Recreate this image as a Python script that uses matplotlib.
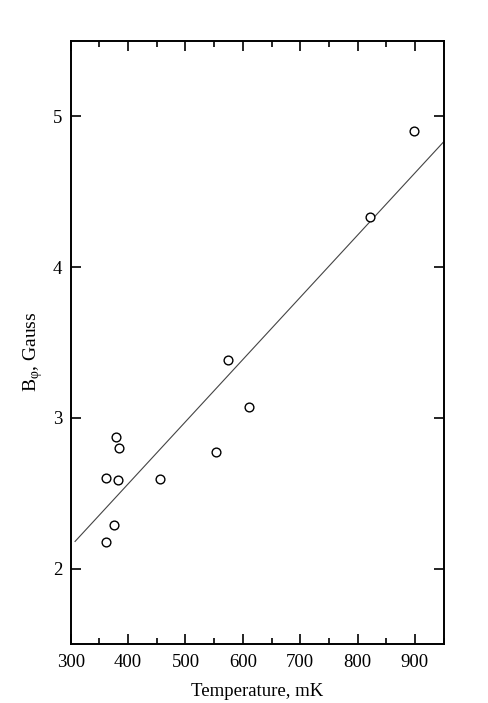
import numpy as np
import matplotlib
matplotlib.use("Agg")
from matplotlib import pyplot as plt
from matplotlib.ticker import MultipleLocator

# data
temperature = [361.5, 376, 361.5, 381.9, 378.9, 383.6, 455, 553.7, 574.5, 611.2, 821.4, 898.6]
b_phi = [2.177, 2.292, 2.599, 2.591, 2.874, 2.798, 2.593, 2.772, 3.387, 3.073, 4.334, 4.906]

# linear fit as drawn
fit_x = [307.5, 950]
fit_intercept = 0.912
fit_slope = 0.004125

plt.rcParams['font.family'] = ['Liberation Serif', 'DejaVu Serif']
plt.rcParams['mathtext.fontset'] = 'custom'
plt.rcParams['mathtext.rm'] = 'Liberation Serif'

fig = plt.figure(figsize=(4.88, 7.03), dpi=100)
ax = fig.add_axes([0.145, 0.0839, 0.764, 0.8578])

fx = np.array(fit_x)
ax.plot(fx, fit_intercept + fit_slope * fx, color='#444444', lw=0.8)
ax.plot(temperature, b_phi, 'o', mfc='white', mec='black', ms=6.3, mew=1.0, ls='none')

ax.set_xlim(300, 950)
ax.set_ylim(1.5, 5.5)
ax.xaxis.set_major_locator(MultipleLocator(100))
ax.xaxis.set_minor_locator(MultipleLocator(50))
ax.yaxis.set_major_locator(MultipleLocator(1))
ax.yaxis.set_minor_locator(MultipleLocator(10))

ax.tick_params(which='both', direction='in', top=True, right=True, width=1.2, labelsize=13.5, pad=6)
ax.tick_params(axis='x', pad=7.5)
ax.tick_params(which='major', length=7)
ax.tick_params(which='minor', length=4)
for s in ax.spines.values():
    s.set_linewidth(1.4)

ax.set_xlabel("Temperature, mK", fontsize=13.5, labelpad=8.5)
ax.set_ylabel(r"B$_\mathregular{φ}$, Gauss", fontsize=14)
ax.yaxis.set_label_coords(-0.068, 0.485)

fig.savefig("out.png", dpi=100)
